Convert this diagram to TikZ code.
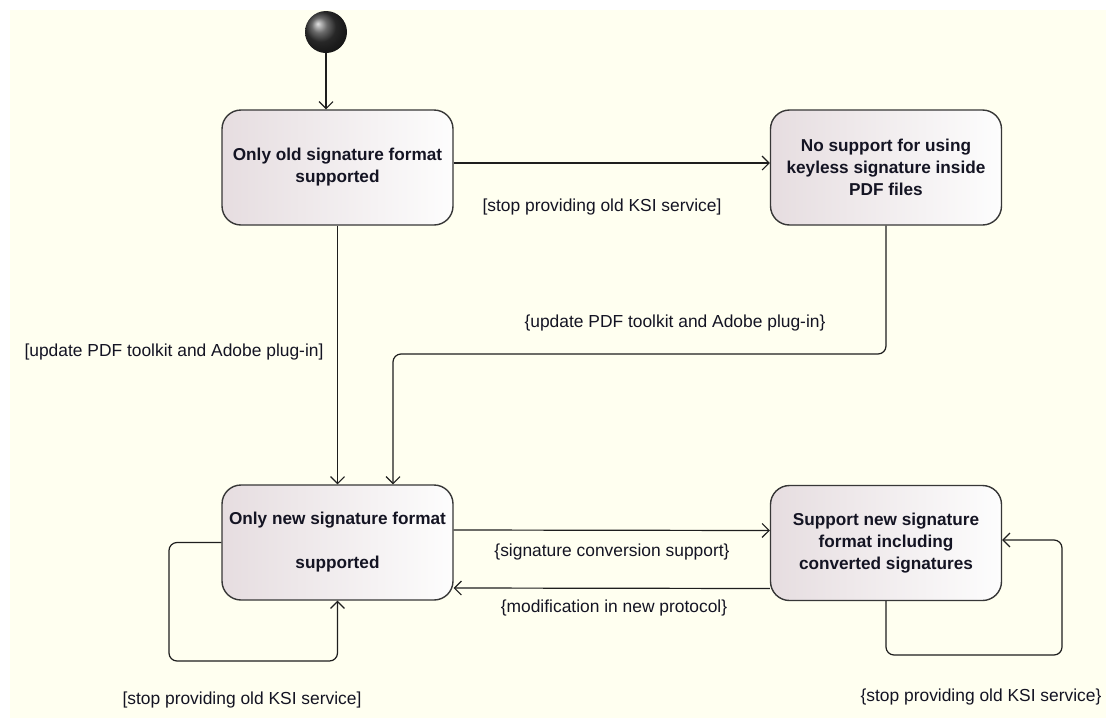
\documentclass[tikz,border=0pt]{standalone}
\usepackage{fontspec}
\setmainfont{Liberation Sans}
\usetikzlibrary{arrows.meta,calc}

\definecolor{cream}{RGB}{255,255,240}
\definecolor{boxleft}{RGB}{230,221,224}
\definecolor{boxright}{RGB}{253,253,253}
\definecolor{boxline}{RGB}{55,55,55}
\definecolor{wire}{RGB}{30,30,30}
\definecolor{ink}{RGB}{20,20,35}

\tikzset{
  state/.style={draw=boxline, line width=1.4pt, rounded corners=19pt,
    left color=boxleft, right color=boxright,
    minimum width=231pt, minimum height=115pt, inner sep=0pt,
    align=center, text=ink, font=\fontsize{17.2}{22}\selectfont\bfseries},
  trans/.style={draw=wire, line width=1.2pt, rounded corners=8pt,
    -{Straight Barb[length=7pt,width=14pt,line width=1.1pt]}},
  guard/.style={text=ink, inner sep=0pt, font=\fontsize{17.4}{21}\selectfont},
}

\begin{document}
\begin{tikzpicture}[x=1pt, y=-1pt]
  % canvas
  \useasboundingbox (0,0) rectangle (1106,718);
  \fill[cream] (10,10) rectangle (1106,718);

  % initial pseudo-state
  \node[circle, minimum size=42pt, inner sep=0pt, shading=ball,
        ball color=black!78] (init) at (326,32) {};

  % states
  \node[state] (A) at (337.5,167.5) {Only old signature format\\supported};
  \node[state] (B) at (886,167.5) {No support for using\\keyless signature inside\\PDF files};
  \node[state] (C) at (337.5,542.5) {Only new signature format\\[22pt]supported};
  \node[state] (D) at (886,543) {Support new signature\\format including\\converted signatures};

  % bend points of the routed transitions
  \coordinate (bc) at (393,354);
  \coordinate (cl) at (169,661);
  \coordinate (dl) at (1062,655);

  % transitions
  \draw[trans] (init.south) -- (init.south |- A.north);
  \draw[trans] ([yshift=4.5pt]A.east) -- ([yshift=4.5pt]B.west);
  \draw[trans] (A.south) -- (C.north);
  \draw[trans] (B.south) |- (bc) -- (bc |- C.north);
  \draw[trans] ([yshift=12.5pt]C.east) -- ([yshift=12.5pt]D.west);
  \draw[trans] ([yshift=-45.5pt]D.west) -- ([yshift=-45.5pt]C.east);
  \draw[trans] (C.west) -| (cl) -| (C.south);
  \draw[trans] (D.south) |- (dl) |- ([yshift=3pt]D.east);

  % guards and effects
  \node[guard] (g1) at (602,207) {[stop providing old KSI service]};
  \node[guard] (g2) at (174,352) {[update PDF toolkit and Adobe plug-in]};
  \node[guard] (g3) at (675,323) {\{update PDF toolkit and Adobe plug-in\}};
  \node[guard] (g4) at (612,552) {\{signature conversion support\}};
  \node[guard] (g5) at (614,608) {\{modification in new protocol\}};
  \node[guard] (g6) at (242,700) {[stop providing old KSI service]};
  \node[guard] (g7) at (981,697) {\{stop providing old KSI service\}};
\end{tikzpicture}
\end{document}
